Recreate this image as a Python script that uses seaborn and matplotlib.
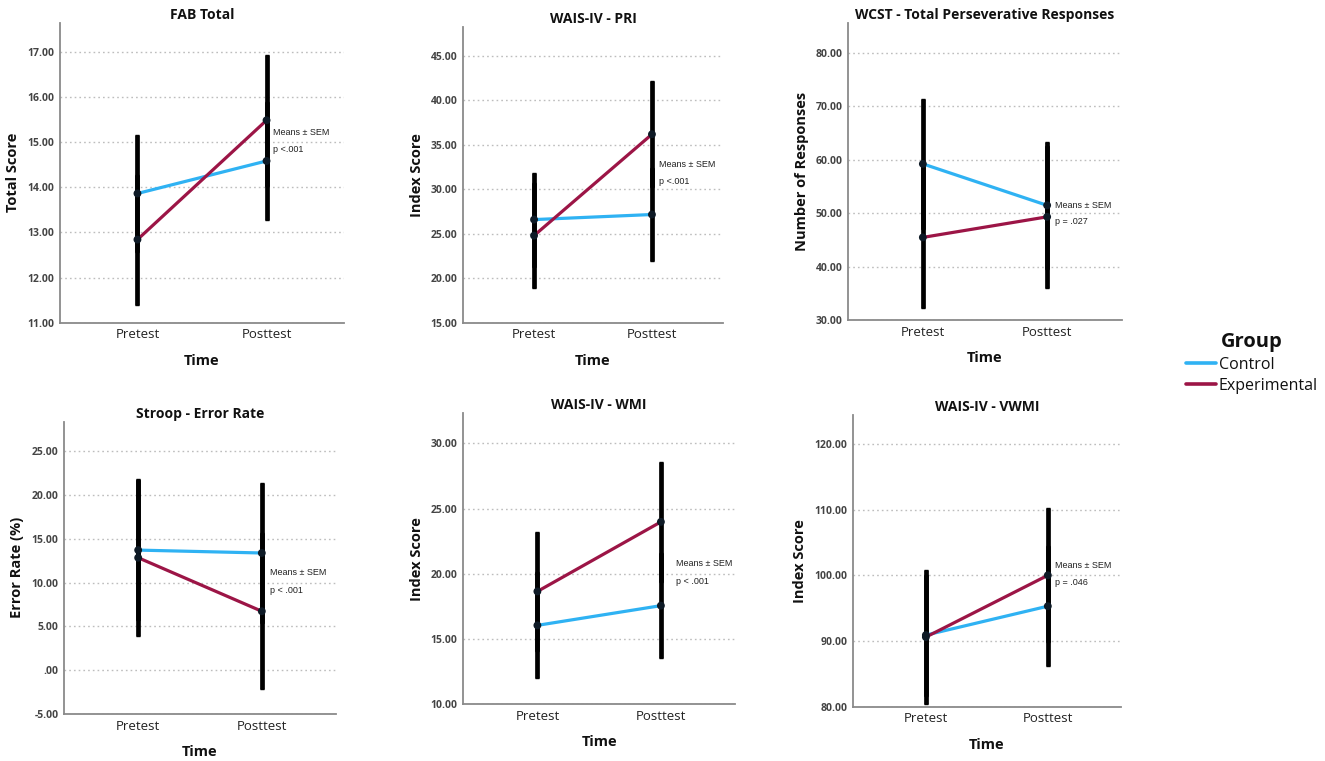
import pandas as pd
import matplotlib.pyplot as plt
from matplotlib.lines import Line2D
from matplotlib.ticker import FuncFormatter
import seaborn as sns

sns.set_theme(style='white')
plt.rcParams['font.family'] = ['Open Sans', 'DejaVu Sans']

times = ['Pretest', 'Posttest']
groups = ['Control', 'Experimental']
colors = {'Control': '#2fb2f3', 'Experimental': '#9c1546'}

titles = ['FAB Total', 'WAIS-IV - PRI', 'WCST - Total Perseverative Responses',
          'Stroop - Error Rate', 'WAIS-IV - WMI', 'WAIS-IV - VWMI']
ylabels = ['Total Score', 'Index Score', 'Number of Responses',
           'Error Rate (%)', 'Index Score', 'Index Score']
p_texts = ['p <.001', 'p <.001', 'p = .027', 'p < .001', 'p < .001', 'p = .046']

# group means (Pretest, Posttest) and error bar half widths
fab_ctrl, fab_ctrl_err = [13.86, 14.58], [1.29, 1.30]
fab_exp, fab_exp_err = [12.84, 15.48], [1.44, 1.45]
pri_ctrl, pri_ctrl_err = [26.6, 27.17], [5.29, 5.28]
pri_exp, pri_exp_err = [24.8, 36.2], [5.95, 5.95]
wcst_ctrl, wcst_ctrl_err = [59.2, 51.45], [12.1, 11.9]
wcst_exp, wcst_exp_err = [45.45, 49.3], [13.25, 13.25]
stroop_ctrl, stroop_ctrl_err = [13.7, 13.37], [7.95, 7.95]
stroop_exp, stroop_exp_err = [12.83, 6.72], [8.93, 8.9]
wmi_ctrl, wmi_ctrl_err = [16.05, 17.56], [4.06, 4.04]
wmi_exp, wmi_exp_err = [18.65, 23.98], [4.56, 4.58]
vwmi_ctrl, vwmi_ctrl_err = [90.9, 95.3], [9.2, 9.1]
vwmi_exp, vwmi_exp_err = [90.6, 100.0], [10.2, 10.2]

series = [
    (fab_ctrl, fab_ctrl_err, fab_exp, fab_exp_err),
    (pri_ctrl, pri_ctrl_err, pri_exp, pri_exp_err),
    (wcst_ctrl, wcst_ctrl_err, wcst_exp, wcst_exp_err),
    (stroop_ctrl, stroop_ctrl_err, stroop_exp, stroop_exp_err),
    (wmi_ctrl, wmi_ctrl_err, wmi_exp, wmi_exp_err),
    (vwmi_ctrl, vwmi_ctrl_err, vwmi_exp, vwmi_exp_err),
]

# layout: axes rect, y limits, tick range/step, note y positions, note x offset (pt)
W, H = 1325, 761
def rect(l, r, t, b):
    return [l / W, 1 - b / H, (r - l) / W, (b - t) / H]

layout = [
    (rect(60, 344, 22.7, 322.7), (11, 17.64), (11, 17, 1), (15.21, 14.83), 5),
    (rect(463.3, 722.7, 26.7, 322.7), (15, 48.3), (15, 45, 5), (32.81, 30.94), 5),
    (rect(848.3, 1121.7, 23.3, 320), (30, 85.5), (30, 80, 10), (51.45, 48.45), 6),
    (rect(64, 336, 421.7, 714), (-5, 28.35), (-5, 25, 5), (11.12, 9.14), 6),
    (rect(463.3, 735, 413.3, 704.3), (10, 32.3), (10, 30, 5), (20.8, 19.43), 11),
    (rect(852.7, 1121, 415, 706.7), (80, 124.4), (80, 120, 10), (101.42, 98.9), 5),
]


def fmt(v, pos):
    s = '{:.2f}'.format(v)
    if s.startswith('0.'):
        s = s[1:]
    return s


fig = plt.figure(figsize=(13.25, 7.61), dpi=100)

for i, (ctrl, ctrl_err, exp, exp_err) in enumerate(series):
    r, ylim, (t0, t1, step), note_y, note_dx = layout[i]
    ax = fig.add_axes(r)
    df = pd.DataFrame({'Time': times * 2,
                       'Group': ['Control'] * 2 + ['Experimental'] * 2,
                       'Score': ctrl + exp})
    sns.lineplot(data=df, x='Time', y='Score', hue='Group', palette=colors,
                 linewidth=2.3, legend=False, sort=False, ax=ax, zorder=2)
    for means, errs in [(ctrl, ctrl_err), (exp, exp_err)]:
        _, caps, _ = ax.errorbar([0, 1], means, yerr=errs, fmt='none', ecolor='black',
                                 elinewidth=3.4, capsize=1.5, capthick=1, zorder=3)
        for c in caps:
            c.set_color('#6cc4ee')
    sns.scatterplot(data=df, x='Time', y='Score', color='#0e1a26', s=32,
                    edgecolor='none', zorder=4, ax=ax, legend=False)

    ax.set_xlim(-0.6, 1.6)
    ax.set_ylim(*ylim)
    ticks = list(range(t0, t1 + 1, step))
    ax.set_yticks(ticks)
    ax.yaxis.set_major_formatter(FuncFormatter(fmt))
    ax.yaxis.grid(True, color='#bdbdbd', linestyle=(0, (1.2, 2.2)), linewidth=1.0)
    ax.set_axisbelow(True)
    for s in ['top', 'right']:
        ax.spines[s].set_visible(False)
    for s in ['left', 'bottom']:
        ax.spines[s].set_color('#8a8a8a')
        ax.spines[s].set_linewidth(1.3)
    ax.tick_params(axis='y', length=0, pad=4, labelsize=7.5, labelcolor='#444444')
    ax.tick_params(axis='x', length=0, pad=4, labelsize=9.5, labelcolor='#222222')
    for lab in ax.get_yticklabels():
        lab.set_fontweight('bold')
    ax.set_title(titles[i], fontsize=10, fontweight='bold', pad=3, color='#111111')
    ax.set_xlabel('Time', fontsize=10.5, fontweight='bold', labelpad=9, color='#111111')
    ax.set_ylabel(ylabels[i], fontsize=10.5, fontweight='bold', labelpad=5, color='#111111')

    ax.annotate('Means ± SEM', xy=(1, note_y[0]), xytext=(note_dx, 0),
                textcoords='offset points', va='center', ha='left',
                fontsize=6.5, family='Liberation Sans', color='#222222')
    ax.annotate(p_texts[i], xy=(1, note_y[1]), xytext=(note_dx, 0),
                textcoords='offset points', va='center', ha='left',
                fontsize=6.5, family='Liberation Sans', color='#222222')

handles = [Line2D([0], [0], color=colors[g], lw=2.6) for g in groups]
leg = fig.legend(handles, groups, title='Group', loc='upper left',
                 bbox_to_anchor=(1178 / W, 1 - 324 / H), frameon=False, fontsize=11.5,
                 title_fontproperties={'weight': 'bold', 'size': 14.5},
                 handlelength=1.9, handletextpad=0.15, labelspacing=0.3, borderpad=0,
                 labelcolor='#111111')
leg.get_title().set_color('#111111')

plt.savefig('out.png', dpi=100)
